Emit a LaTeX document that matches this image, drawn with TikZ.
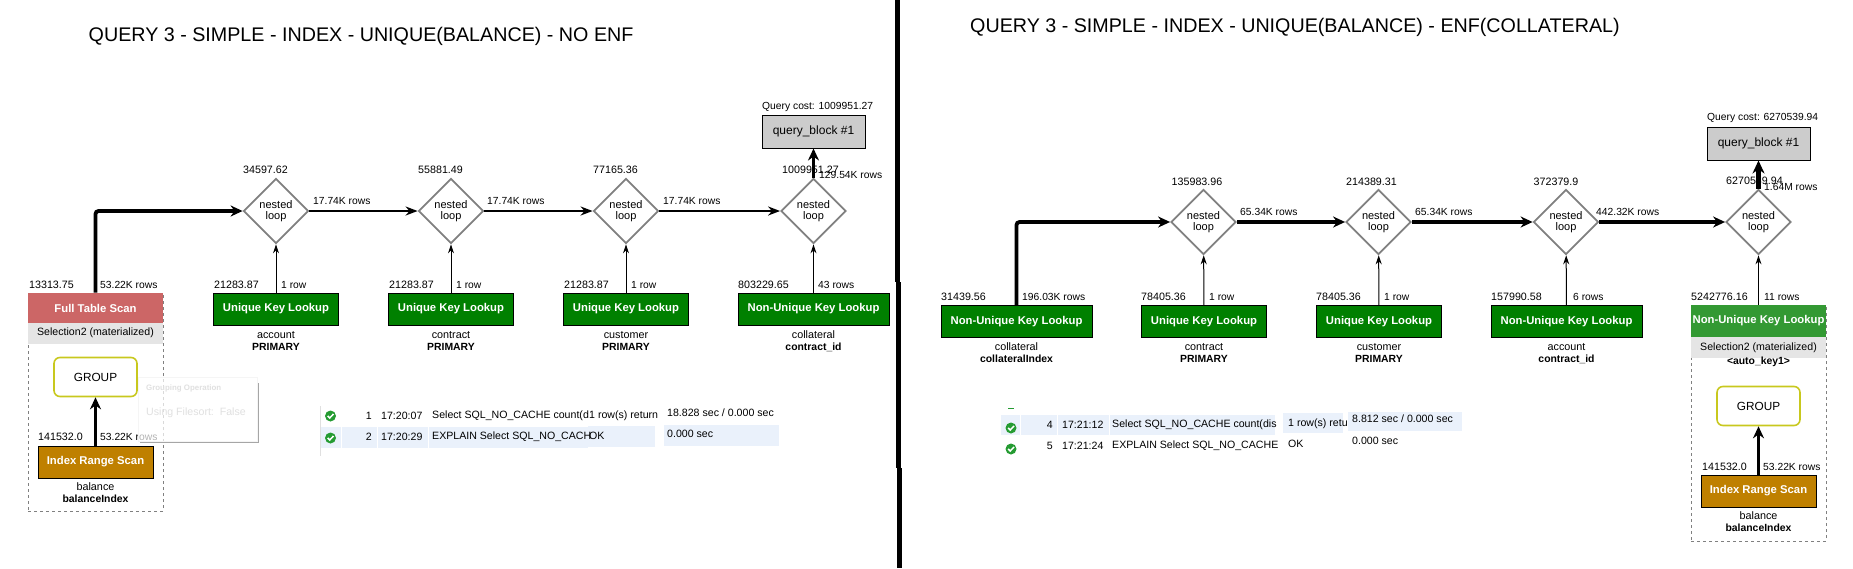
\documentclass[tikz,border=0pt]{standalone}
\usepackage{fontspec}
\setmainfont{Liberation Sans}
\usepackage{xcolor}
\usetikzlibrary{arrows.meta,shapes.geometric}
\definecolor{lookupgreen}{HTML}{008000}
\definecolor{lightgreen}{HTML}{339933}
\definecolor{scanred}{HTML}{CC6666}
\definecolor{rangebrown}{HTML}{BF8000}
\definecolor{groupedge}{HTML}{C8C81E}
\definecolor{rowblue}{HTML}{EAF1FB}
\definecolor{okgreen}{HTML}{259B32}

\begin{document}
\begin{tikzpicture}[
  x=1pt, y=-1pt,
  >=Stealth,
  lookup/.style={draw=black, line width=1pt, minimum height=32pt,
             inner sep=0pt, text=white,
             font=\fontsize{11.3}{13}\selectfont\bfseries},
  fullscan/.style={lookup, fill=scanred, draw=none, minimum width=135pt, minimum height=31pt},
  uniq/.style={lookup, fill=lookupgreen, minimum width=125pt},
  nonuniq/.style={lookup, fill=lookupgreen, minimum width=151pt},
  rangescan/.style={lookup, fill=rangebrown, minimum width=115pt},
  loopnode/.style={diamond, aspect=1, draw=gray, line width=1.8pt, fill=white,
             minimum width=65pt, minimum height=65pt, inner sep=0pt, align=center,
             font=\fontsize{11}{10.5}\selectfont},
  qblock/.style={draw=black, line width=1pt, fill=black!20, minimum width=103pt,
             minimum height=33pt, inner sep=0pt, font=\fontsize{12}{14}\selectfont},
  groupbox/.style={draw=groupedge, line width=1.6pt, fill=white, rounded corners=6pt,
             minimum width=83pt, minimum height=39pt, inner sep=0pt,
             font=\fontsize{11.8}{14}\selectfont},
  matbar/.style={fill=black!10, minimum width=135pt, minimum height=21pt, inner sep=0pt,
             font=\fontsize{10.6}{12}\selectfont},
  matframe/.style={draw=gray, dashed, line width=.7pt, minimum width=135pt, inner sep=0pt},
  cost/.style={inner sep=0pt, anchor=west, font=\fontsize{10.7}{12}\selectfont},
  rowcount/.style={cost, font=\fontsize{10.3}{12}\selectfont},
  sublabel/.style={inner sep=0pt, font=\fontsize{10.8}{12}\selectfont},
  subbold/.style={sublabel, font=\fontsize{10.4}{12}\selectfont\bfseries},
  titletxt/.style={inner sep=0pt, anchor=west, font=\fontsize{19.7}{22}\selectfont},
  rowtxt/.style={inner sep=0pt, anchor=west, font=\fontsize{10.6}{12}\selectfont},
  rowr/.style={rowtxt, anchor=east},
  rowbg/.style={fill=rowblue},
  okicon/.style={circle, fill=okgreen, minimum size=11pt, inner sep=0pt,
             path picture={\draw[white, line width=1.5pt]
               ([shift={(-2.8,0)}]path picture bounding box.center)
               -- ++(2,2) -- ++(3.8,-4);}},
  tinarr/.style={-{Stealth[length=9pt,width=6pt]}, line width=1pt},
  midarr/.style={-{Stealth[length=12pt,width=9pt]}, line width=2.8pt},
  fatarr/.style={-{Stealth[length=12pt,width=11pt]}, line width=3.8pt},
  hugearr/.style={-{Stealth[length=13pt,width=12pt]}, line width=5pt},
]
\useasboundingbox (0,0) rectangle (1853,568);

% ---- separator ----
\draw[line width=5pt] (897.5,0) -- (897.5,282);
\draw[line width=5pt] (898.5,282) -- (898.5,468);
\draw[line width=5pt] (899.5,468) -- (899.5,568);

% ---- titles ----
\node[titletxt] (TL) at (88.5,36.5) {QUERY 3 - SIMPLE - INDEX - UNIQUE(BALANCE) - NO ENF};
\node[titletxt] (TR) at (970,27) {QUERY 3 - SIMPLE - INDEX - UNIQUE(BALANCE) - ENF(COLLATERAL)};

% ---- left: materialized frame ----
\node[matframe, minimum height=218pt] (LF) at (95.5,402) {};
\node[fullscan] (LFT) at (95.5,308.5) {Full Table Scan};
\node[matbar] (LM) at (95.5,333) {Selection2 (materialized)};
\node[groupbox] (LG) at (95.5,377) {GROUP};
\node[rangescan] (LI) at (95.5,462) {Index Range Scan};
\node[sublabel]  (LI1) at (95.5,487) {balance};
\node[subbold] (LI2) at (95.5,499) {balanceIndex};

% ---- left: lookups ----
\node[uniq] (LA) at (276,309) {Unique Key Lookup};
\node[uniq] (LB) at (451,309) {Unique Key Lookup};
\node[uniq] (LC) at (626,309) {Unique Key Lookup};
\node[nonuniq] (LD) at (813.5,309) {Non-Unique Key Lookup};
\node[sublabel]  (LA1) at (276,335) {account};
\node[subbold] (LA2) at (276,347) {PRIMARY};
\node[sublabel]  (LB1) at (451,335) {contract};
\node[subbold] (LB2) at (451,347) {PRIMARY};
\node[sublabel]  (LC1) at (626,335) {customer};
\node[subbold] (LC2) at (626,347) {PRIMARY};
\node[sublabel]  (LD1) at (813.5,335) {collateral};
\node[subbold] (LD2) at (813.5,347) {contract\_id};

% ---- left: costs and rows ----
\node[cost] (LN1c) at (243,170) {34597.62};
\node[cost] (LN2c) at (418,170) {55881.49};
\node[cost] (LN3c) at (593,170) {77165.36};
\node[cost] (LN4c) at (782,170) {1009951.27};
\node[rowcount] (LN4r) at (819,175) {129.54K rows};
\node[rowcount] (LQc) at (762,107) {Query cost: 1009951.27};
\node[rowcount] (LN1r) at (313,201) {17.74K rows};
\node[rowcount] (LN2r) at (487,201) {17.74K rows};
\node[rowcount] (LN3r) at (663,201) {17.74K rows};
\node[cost] (LFc) at (29,285) {13313.75};
\node[rowcount] (LFr) at (100,285) {53.22K rows};
\node[cost] (LIc) at (38,437) {141532.0};
\node[rowcount] (LIr) at (100,437) {53.22K rows};
\node[cost] (LAc) at (214,285) {21283.87};
\node[rowcount] (LAr) at (281,285) {1 row};
\node[cost] (LBc) at (389,285) {21283.87};
\node[rowcount] (LBr) at (456,285) {1 row};
\node[cost] (LCc) at (564,285) {21283.87};
\node[rowcount] (LCr) at (631,285) {1 row};
\node[cost] (LDc) at (738,285) {803229.65};
\node[rowcount] (LDr) at (818,285) {43 rows};

% ---- left: loops ----
\node[loopnode] (LN1) at (276,211) {nested\\loop};
\node[loopnode] (LN2) at (451,211) {nested\\loop};
\node[loopnode] (LN3) at (626,211) {nested\\loop};
\node[loopnode] (LN4) at (813.5,211) {nested\\loop};
\node[qblock] (LQ) at (813.5,131.5) {query\_block \#1};

% ---- left: arrows ----
\draw[fatarr, rounded corners=3pt] (LFT.north) |- (LN1.west);
\draw[midarr] (LN1) -- (LN2);
\draw[midarr] (LN2) -- (LN3);
\draw[midarr] (LN3) -- (LN4);
\draw[fatarr] (LN4) -- (LQ);
\draw[tinarr] (LA) -- (LN1);
\draw[tinarr] (LB) -- (LN2);
\draw[tinarr] (LC) -- (LN3);
\draw[tinarr] (LD) -- (LN4);
\draw[fatarr] (LI) -- (LG);

% ---- left: history rows ----
\draw[black!12] (320,406) -- (320,456);
\fill[rowbg] (321,427) rectangle (341,448);
\fill[rowbg] (342,427) rectangle (377,448);
\fill[rowbg] (378,427) rectangle (428,448);
\fill[rowbg] (429,427) rectangle (588,448);
\fill[rowbg] (588,426) rectangle (655,447);
\fill[rowbg] (664,425) rectangle (779,446);
\node[okicon] (LH1) at (330.5,416) {};
\node[okicon] (LH2) at (330.5,438) {};
\node[rowr] (LH1n) at (372,415.5) {1};
\node[rowr] (LH2n) at (372,437) {2};
\node[rowtxt] (LH1t) at (381,415.5) {17:20:07};
\node[rowtxt] (LH2t) at (381,437) {17:20:29};
\node[rowtxt] (LH1q) at (432,415.5) {Select SQL\_NO\_CACHE count(d};
\node[rowtxt] (LH2q) at (432,437) {EXPLAIN Select SQL\_NO\_CACH};
\node[rowtxt] (LH1a) at (589,415.5) {1 row(s) return};
\node[rowtxt] (LH2a) at (589,436) {OK};
\node[rowtxt] (LH1d) at (667,413) {18.828 sec / 0.000 sec};
\node[rowtxt] (LH2d) at (667,434) {0.000 sec};

% ---- left: tooltip ----
\fill[black!35] (257,383) rectangle (259,443);
\fill[black!35] (140,441) rectangle (259,443);
\node[draw=black!4, fill=white, fill opacity=.7, minimum width=119pt, minimum height=64pt,
      inner sep=0pt] (LT) at (197.5,409) {};
\node[inner sep=0pt, anchor=west, text=black!12, font=\fontsize{7.9}{9}\selectfont\bfseries]
      (LT1) at (146,388) {Grouping Operation};
\node[inner sep=0pt, anchor=west, text=black!12, font=\fontsize{10.6}{12}\selectfont]
      (LT2) at (146,413) {Using Filesort:\ \ False};

% ---- right: lookups ----
\node[nonuniq] (RA) at (1016.5,321.5) {Non-Unique Key Lookup};
\node[uniq] (RB) at (1204,321.5) {Unique Key Lookup};
\node[uniq] (RC) at (1379,321.5) {Unique Key Lookup};
\node[nonuniq] (RD) at (1566.5,321.5) {Non-Unique Key Lookup};
\node[sublabel]  (RA1) at (1016.5,347) {collateral};
\node[subbold] (RA2) at (1016.5,359) {collateralIndex};
\node[sublabel]  (RB1) at (1204,347) {contract};
\node[subbold] (RB2) at (1204,359) {PRIMARY};
\node[sublabel]  (RC1) at (1379,347) {customer};
\node[subbold] (RC2) at (1379,359) {PRIMARY};
\node[sublabel]  (RD1) at (1566.5,347) {account};
\node[subbold] (RD2) at (1566.5,359) {contract\_id};

% ---- right: materialized frame ----
\node[matframe, minimum height=236pt] (RF) at (1758.5,423) {};
\node[fullscan, fill=lightgreen, minimum height=32pt] (RE) at (1758.5,321) {Non-Unique Key Lookup};
\node[matbar] (RM) at (1758.5,347.5) {Selection2 (materialized)};
\node[subbold] (RM2) at (1758.5,362) {<auto\_key1>};
\node[groupbox] (RG) at (1758.5,406) {GROUP};
\node[rangescan] (RI) at (1758.5,491) {Index Range Scan};
\node[sublabel]  (RI1) at (1758.5,516) {balance};
\node[subbold] (RI2) at (1758.5,528) {balanceIndex};

% ---- right: costs and rows ----
\node[cost] (RN1c) at (1171.5,182) {135983.96};
\node[cost] (RN2c) at (1346,182) {214389.31};
\node[cost] (RN3c) at (1533.5,182) {372379.9};
\node[cost] (RN4c) at (1726,181) {6270539.94};
\node[rowcount] (RN4r) at (1764,187) {1.64M rows};
\node[rowcount] (RQc) at (1707,118) {Query cost: 6270539.94};
\node[rowcount] (RN1r) at (1240,212) {65.34K rows};
\node[rowcount] (RN2r) at (1415,212) {65.34K rows};
\node[rowcount] (RN3r) at (1596,212) {442.32K rows};
\node[cost] (RAc) at (941,297) {31439.56};
\node[rowcount] (RAr) at (1022,297) {196.03K rows};
\node[cost] (RBc) at (1141,297) {78405.36};
\node[rowcount] (RBr) at (1209,297) {1 row};
\node[cost] (RCc) at (1316,297) {78405.36};
\node[rowcount] (RCr) at (1384,297) {1 row};
\node[cost] (RDc) at (1491,297) {157990.58};
\node[rowcount] (RDr) at (1573,297) {6 rows};
\node[cost] (REc) at (1691,297) {5242776.16};
\node[rowcount] (REr) at (1764,297) {11 rows};
\node[cost] (RIc) at (1702,467) {141532.0};
\node[rowcount] (RIr) at (1763,467) {53.22K rows};

% ---- right: loops ----
\node[loopnode] (RN1) at (1203.5,222) {nested\\loop};
\node[loopnode] (RN2) at (1378.5,222) {nested\\loop};
\node[loopnode] (RN3) at (1566,222) {nested\\loop};
\node[loopnode] (RN4) at (1758.5,222) {nested\\loop};
\node[qblock] (RQ) at (1758.5,143.5) {query\_block \#1};

% ---- right: arrows ----
\draw[fatarr, rounded corners=3pt] (RA.north) |- (RN1.west);
\draw[fatarr] (RN1) -- (RN2);
\draw[fatarr] (RN2) -- (RN3);
\draw[fatarr] (RN3) -- (RN4);
\draw[hugearr] (RN4) -- (RQ);
\draw[tinarr] (RB) -- (RN1);
\draw[tinarr] (RC) -- (RN2);
\draw[tinarr] (RD) -- (RN3);
\draw[tinarr] (RE) -- (RN4);
\draw[fatarr] (RI) -- (RG);

% ---- right: history rows ----
\draw[okgreen, line width=1pt] (1008,408) -- (1014,408);
\fill[rowbg] (1001,415) rectangle (1020,435);
\fill[rowbg] (1021,415) rectangle (1057,435);
\fill[rowbg] (1058,415) rectangle (1109,435);
\fill[rowbg] (1110,415) rectangle (1275,435);
\fill[rowbg] (1283,413) rectangle (1343,433);
\fill[rowbg] (1348,412) rectangle (1462,431);
\node[okicon] (RH1) at (1011,428) {};
\node[okicon] (RH2) at (1011,449) {};
\node[rowr] (RH1n) at (1053,425) {4};
\node[rowr] (RH2n) at (1053,446) {5};
\node[rowtxt] (RH1t) at (1062,425) {17:21:12};
\node[rowtxt] (RH2t) at (1062,446) {17:21:24};
\node[rowtxt] (RH1q) at (1112,425) {Select SQL\_NO\_CACHE count(dis};
\node[rowtxt] (RH2q) at (1112,446) {EXPLAIN Select SQL\_NO\_CACHE};
\node[rowtxt] (RH1a) at (1288,424) {1 row(s) retu};
\node[rowtxt] (RH2a) at (1288,444) {OK};
\node[rowtxt] (RH1d) at (1352,419) {8.812 sec / 0.000 sec};
\node[rowtxt] (RH2d) at (1352,441) {0.000 sec};

\end{tikzpicture}
\end{document}
